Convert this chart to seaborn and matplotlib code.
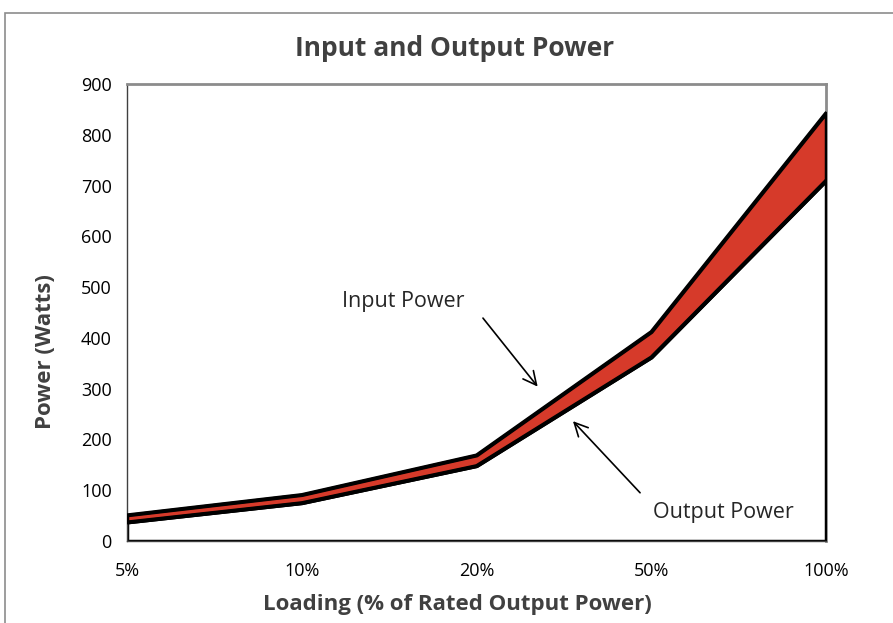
import numpy as np
import pandas as pd
import seaborn as sns
import matplotlib.pyplot as plt
from matplotlib.patches import Rectangle

loading = ['5%', '10%', '20%', '50%', '100%']
input_power = [51, 91, 169, 412, 843]
output_power = [37, 75, 148, 362, 710]

sns.set_style('white')
plt.rcParams['font.family'] = ['Open Sans', 'DejaVu Sans']

df = pd.DataFrame({'pos': np.arange(len(loading)),
                   'Input Power': input_power,
                   'Output Power': output_power})

fig = plt.figure(figsize=(8.93, 6.23), dpi=100)
ax = fig.add_axes([127 / 893, 82 / 623, 699 / 893, 457 / 623])

# outer chart border
fig.patches.append(Rectangle((5 / 893, -0.1), 1.2, (623 - 13) / 623 + 0.1,
                             transform=fig.transFigure, fill=False,
                             edgecolor='#8c8c8c', linewidth=1.2))

### output area (white) and band between output and input (red)
ax.fill_between(df['pos'], 0, df['Output Power'], facecolor='white',
                edgecolor='black', linewidth=2.5, zorder=2)
ax.fill_between(df['pos'], df['Output Power'], df['Input Power'],
                facecolor='#d63a2a', edgecolor='black', linewidth=2.5,
                zorder=3)
sns.lineplot(data=df, x='pos', y='Input Power', color='black', lw=2.5,
             ax=ax, zorder=4)
sns.lineplot(data=df, x='pos', y='Output Power', color='black', lw=2.5,
             ax=ax, zorder=4)

ax.set_xlim(0, 4)
ax.set_ylim(0, 900)
ax.set_yticks(range(0, 901, 100))
ax.set_xticks(df['pos'])
ax.set_xticklabels(loading)
ax.tick_params(axis='both', direction='out', length=5, width=1,
               color='#404040', labelsize=13, labelcolor='black', pad=6)
ax.tick_params(axis='x', pad=10)

for side in ['top', 'right']:
    ax.spines[side].set_color('#8c8c8c')
    ax.spines[side].set_linewidth(2)
for side in ['left', 'bottom']:
    ax.spines[side].set_color('#404040')
    ax.spines[side].set_linewidth(1)
ax.spines['right'].set_zorder(1)

ax.set_title('Input and Output Power', fontsize=19, fontweight='bold',
             color='#404040', pad=20, x=0.468)
ax.set_xlabel('Loading (% of Rated Output Power)', fontsize=16,
              fontweight='bold', color='#404040', labelpad=10, x=0.472)
ax.set_ylabel('Power (Watts)', fontsize=16, fontweight='bold',
              color='#404040', labelpad=18, y=0.414)

ax.text(1.58, 471, 'Input Power', ha='center', va='center', fontsize=15.5,
        zorder=5)
ax.annotate('', xy=(2.35, 304), xytext=(2.037, 439),
            arrowprops=dict(arrowstyle='->', color='black', lw=1.2,
                            shrinkA=0, shrinkB=0, mutation_scale=24),
            zorder=5)
ax.text(3.41, 57, 'Output Power', ha='center', va='center', fontsize=15.5,
        zorder=5)
ax.annotate('', xy=(2.552, 236), xytext=(2.936, 95),
            arrowprops=dict(arrowstyle='->', color='black', lw=1.2,
                            shrinkA=0, shrinkB=0, mutation_scale=24),
            zorder=5)

plt.savefig('out.png', dpi=100)
